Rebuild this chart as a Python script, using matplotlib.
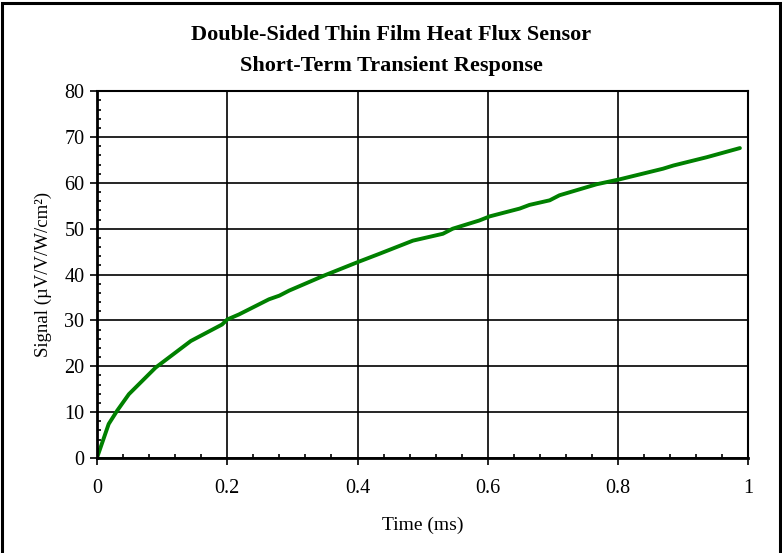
import numpy as np
import matplotlib
matplotlib.use("Agg")
import matplotlib.pyplot as plt
from matplotlib.patches import Rectangle
from matplotlib.ticker import MultipleLocator

plt.rcParams['font.family'] = ['Liberation Serif', 'DejaVu Serif']

# time (ms) and signal (uV/V/W/cm2)
time_ms = [0.0, 0.018, 0.031, 0.049, 0.090, 0.144, 0.192, 0.200, 0.218, 0.264,
           0.280, 0.295, 0.349, 0.400, 0.433, 0.485, 0.531, 0.546, 0.587, 0.603,
           0.649, 0.664, 0.695, 0.710, 0.767, 0.803, 0.869, 0.885, 0.936, 0.987]
signal = [0.0, 7.4, 10.3, 13.9, 19.7, 25.5, 29.1, 30.2, 31.3, 34.6,
          35.4, 36.5, 39.8, 42.7, 44.5, 47.4, 48.9, 50.0, 51.8, 52.7,
          54.4, 55.2, 56.2, 57.3, 59.7, 60.8, 63.1, 63.8, 65.6, 67.6]

title = "Double-Sided Thin Film Heat Flux Sensor\nShort-Term Transient Response"
xlabel = "Time (ms)"
ylabel = "Signal (\u00b5V/V/W/cm\u00b2)"


def main():
    fig = plt.figure(figsize=(7.82, 5.53), dpi=100)
    ax = fig.add_axes([0.124, 0.172, 0.833, 0.663])

    ax.plot(time_ms, signal, color="#008000", lw=2.8, solid_capstyle="round")

    ax.set_xlim(0, 1)
    ax.set_ylim(0, 80)
    ax.xaxis.set_major_locator(MultipleLocator(0.2))
    ax.xaxis.set_minor_locator(MultipleLocator(0.04))
    ax.yaxis.set_major_locator(MultipleLocator(10))
    ax.yaxis.set_minor_locator(MultipleLocator(2))
    ax.xaxis.set_major_formatter(plt.FuncFormatter(lambda v, p: f"{v:g}"))

    ax.grid(True, which="major", color="black", lw=1.2)
    ax.tick_params(which="major", direction="out", length=5, width=1.2,
                   labelsize=14.5)
    ax.tick_params(axis="x", which="major", pad=10)
    ax.tick_params(axis="y", which="major", pad=4)
    ax.tick_params(which="minor", direction="in", length=3, width=1.2)
    for side in ("left", "bottom"):
        ax.spines[side].set_linewidth(2)
    for side in ("top", "right"):
        ax.spines[side].set_linewidth(1.5)

    ax.set_xlabel(xlabel, fontsize=14, labelpad=14)
    ax.set_ylabel(ylabel, fontsize=13.5, labelpad=9)
    fig.text(0.5, 0.909, title, ha="center", va="center", fontsize=16,
             fontweight="bold", linespacing=1.75)

    # outer border like the chart frame
    fig.patches.append(Rectangle((0.002, -0.02), 0.995, 1.015,
                                 transform=fig.transFigure, fill=False,
                                 edgecolor="black", lw=2.2))

    fig.savefig("out.png", dpi=100)
    plt.close(fig)


if __name__ == "__main__":
    main()
